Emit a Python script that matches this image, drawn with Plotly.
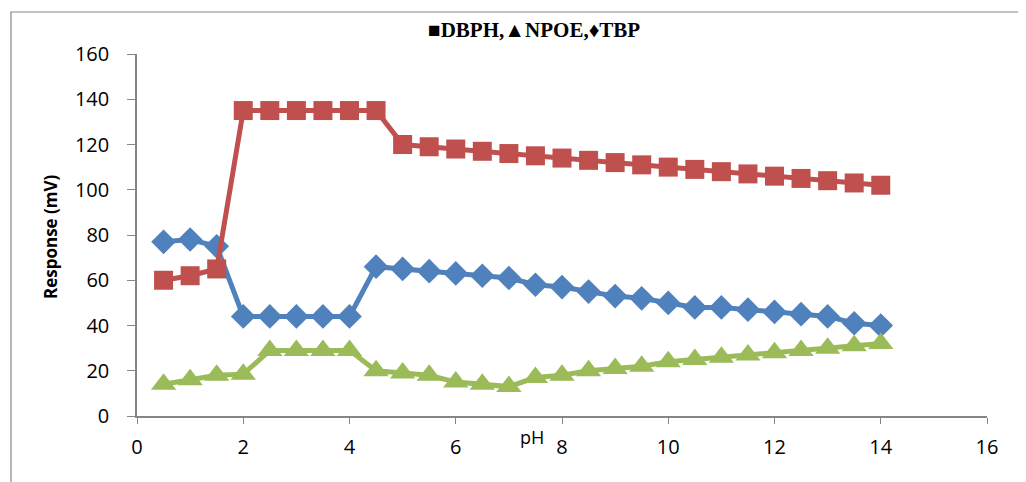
import plotly.graph_objects as go

ph = [0.5, 1, 1.5, 2, 2.5, 3, 3.5, 4, 4.5, 5, 5.5, 6, 6.5, 7, 7.5, 8, 8.5, 9, 9.5, 10,
      10.5, 11, 11.5, 12, 12.5, 13, 13.5, 14]
dbph = [60, 62, 65, 135, 135, 135, 135, 135, 135, 120, 119, 118, 117, 116, 115, 114, 113,
        112, 111, 110, 109, 108, 107, 106, 105, 104, 103, 102]
npoe = [14, 16, 18, 18.5, 29, 29, 29, 29, 20, 19, 18, 15, 14, 13, 17, 18, 20, 21, 22, 24,
        25, 26, 27, 28, 29, 30, 31, 32]
tbp = [77, 78, 75, 44, 44, 44, 44, 44, 66, 65, 64, 63, 62, 61, 58, 57, 55, 53, 52, 50,
       48, 48, 47, 46, 45, 44, 41, 40]

fig = go.Figure()
fig.add_trace(go.Scatter(x=ph, y=tbp, mode="lines+markers", name="TBP",
                         line=dict(color="#4F81BD", width=5),
                         marker=dict(symbol="diamond", size=19, color="#4F81BD")))
fig.add_trace(go.Scatter(x=ph, y=dbph, mode="lines+markers", name="DBPH",
                         line=dict(color="#C0504D", width=5),
                         marker=dict(symbol="square", size=19, color="#C0504D")))
fig.add_trace(go.Scatter(x=ph, y=npoe, mode="lines+markers", name="NPOE",
                         line=dict(color="#9BBB59", width=5),
                         marker=dict(symbol="triangle-up", size=22, color="#9BBB59")))

OFF = 8  # browser body margin
W, H = 1026 - OFF, 482 - OFF
L, R, T, B = 137 - OFF, 39, 54 - OFF, 66
pw, ph_ = W - L - R, H - T - B

def px(x):
    return (x - OFF - L) / pw

def py(y):
    return (H - B - (y - OFF)) / ph_

fig.update_layout(
    width=W, height=H,
    margin=dict(l=L, r=R, t=T, b=B),
    paper_bgcolor="white", plot_bgcolor="white",
    showlegend=False,
    font=dict(family="Open Sans", color="black"),
    xaxis=dict(range=[0, 16], dtick=2, showgrid=False, zeroline=False,
               showline=True, linecolor="#868686", linewidth=1.5,
               ticks="outside", ticklen=6, tickcolor="#868686",
               tickfont=dict(size=20, family="Open Sans"), ticklabelstandoff=6),
    yaxis=dict(range=[0, 160], dtick=20, showgrid=False, zeroline=False,
               showline=True, linecolor="#868686", linewidth=1.5,
               ticks="outside", ticklen=8, tickcolor="#868686",
               tickfont=dict(size=20, family="Open Sans"), ticklabelstandoff=14),
    shapes=[dict(type="rect", xref="paper", yref="paper",
                 x0=px(11), x1=px(1020), y0=py(495), y1=py(12),
                 line=dict(color="#868686", width=1.2), fillcolor="rgba(0,0,0,0)",
                 layer="below")],
    annotations=[
        dict(text="<b>■DBPH,▲NPOE,♦TBP</b>", xref="paper", yref="paper",
             x=px(534), y=py(30), xanchor="center", yanchor="middle", showarrow=False,
             font=dict(family="Liberation Serif", size=21, color="black")),
        dict(text="pH", xref="paper", yref="paper", x=px(532), y=py(437),
             xanchor="center", yanchor="middle",
             showarrow=False, font=dict(family="Open Sans", size=18)),
        dict(text="<b>Response (mV)</b>", xref="paper", yref="paper",
             x=px(50), y=py(237), xanchor="center", yanchor="middle",
             textangle=-90, showarrow=False,
             font=dict(family="Open Sans", size=17)),
    ],
)

fig.write_html("out.html")
